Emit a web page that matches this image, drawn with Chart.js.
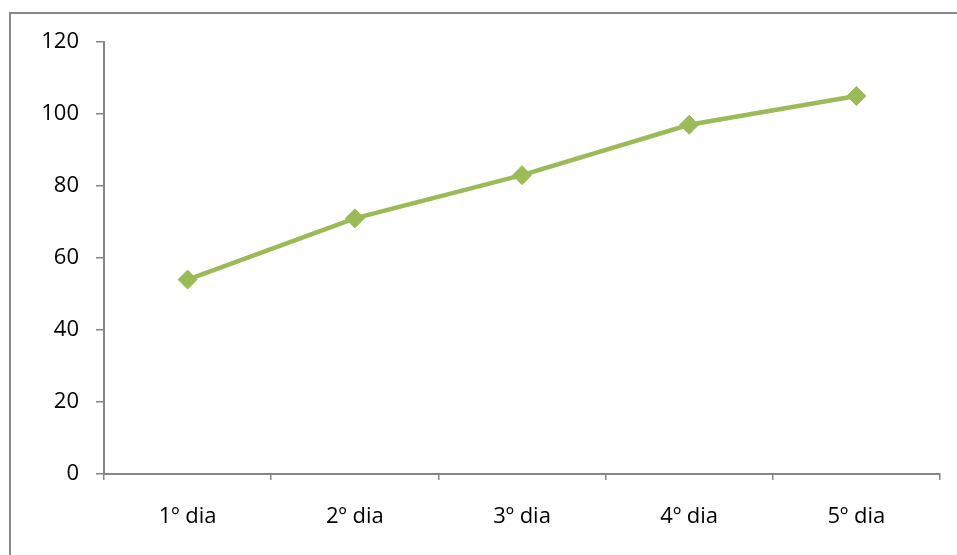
<!DOCTYPE html>
<html>
<head>
<meta charset="utf-8">
<script src="https://cdn.jsdelivr.net/npm/chart.js@4/dist/chart.umd.min.js"></script>
<style>
html,body{margin:0;padding:0;background:#fff;overflow:hidden;width:957px;height:555px;}
#frame{position:absolute;left:9px;top:12px;width:1200px;height:900px;border-top:2px solid #898989;border-left:2px solid #898989;box-sizing:border-box;}
#wrap{position:absolute;left:0;top:0;width:957px;height:555px;}
</style>
</head>
<body>
<div id="frame"></div>
<div id="wrap"><canvas id="c" width="957" height="555"></canvas></div>
<script>
const categories = ["1º dia", "2º dia", "3º dia", "4º dia", "5º dia"];
const values = [54, 71, 83, 97, 105];
const yMin = 0, yMax = 120, yStep = 20;

const axisColor = '#868686';
const lineColor = '#9BBB59';

new Chart(document.getElementById('c'), {
  type: 'line',
  data: {
    labels: categories,
    datasets: [{
      data: values,
      borderColor: lineColor,
      backgroundColor: lineColor,
      borderWidth: 4.5,
      pointStyle: 'rectRot',
      pointRadius: 9.5,
      pointBorderWidth: 1,
      pointBorderColor: lineColor,
      pointBackgroundColor: lineColor,
      tension: 0,
      fill: false
    }]
  },
  options: {
    responsive: false,
    animation: false,
    devicePixelRatio: 1,
    layout: { padding: { top: 42, right: 17, left: 0, bottom: 0 } },
    plugins: { legend: { display: false }, tooltip: { enabled: false } },
    scales: {
      x: {
        offset: true,
        grid: { offset: true, drawOnChartArea: false, color: axisColor, tickLength: 6, lineWidth: 1.5 },
        border: { color: axisColor, width: 2 },
        ticks: { color: '#000', font: { family: 'Open Sans', size: 22 }, padding: 24, maxRotation: 0 },
        afterFit: s => { s.height = 81; }
      },
      y: {
        min: yMin, max: yMax,
        grid: { drawOnChartArea: false, color: axisColor, tickLength: 8, lineWidth: 1.5 },
        border: { color: axisColor, width: 2 },
        ticks: { stepSize: yStep, color: '#000', font: { family: 'Open Sans', size: 22 }, padding: 17 },
        afterFit: s => { s.width = 104; }
      }
    }
  }
});
</script>
</body>
</html>
